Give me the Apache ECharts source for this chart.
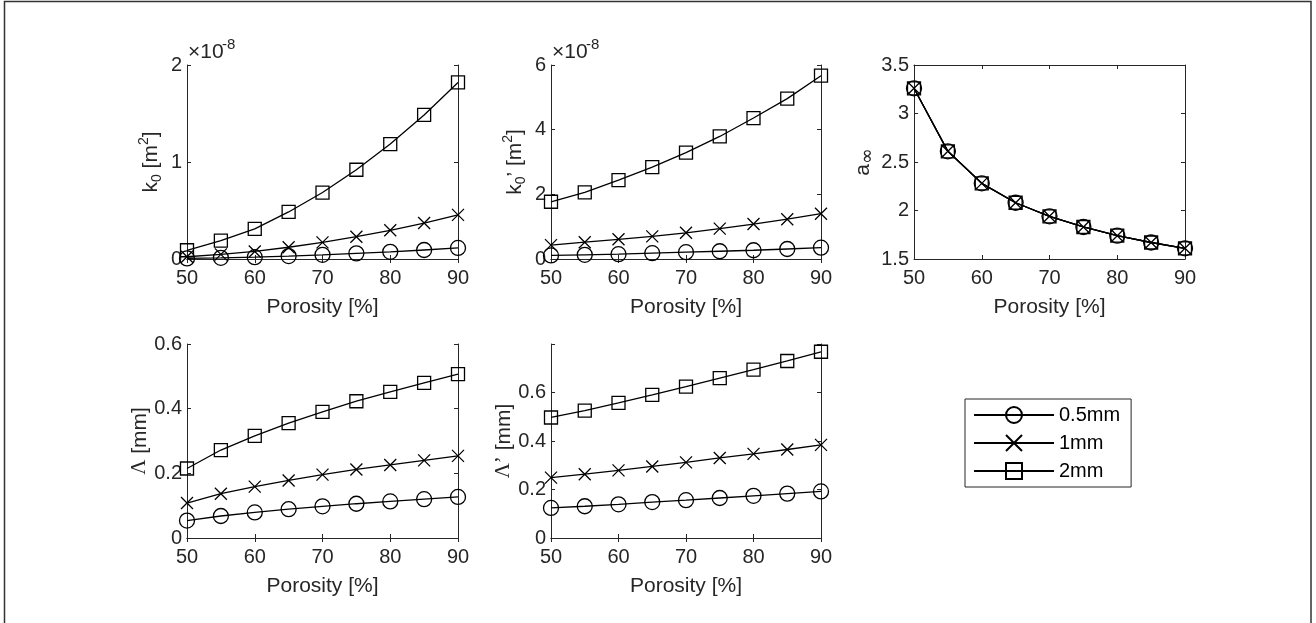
<!DOCTYPE html>
<html>
<head>
<meta charset="utf-8">
<script src="https://cdn.jsdelivr.net/npm/echarts@6/dist/echarts.min.js"></script>
<style>
html,body{margin:0;padding:0;background:#fff;}
#c{width:1316px;height:623px;}
</style>
</head>
<body>
<div id="c"></div>
<script>
// ---------- data ----------
const porosity = [50, 55, 60, 65, 70, 75, 80, 85, 90];
const seriesNames = ['0.5mm', '1mm', '2mm'];

// k0 in units of 1e-8 m^2
const k0_05 = [0.006, 0.012, 0.019, 0.030, 0.043, 0.058, 0.074, 0.093, 0.114];
const k0_1  = [0.023, 0.048, 0.078, 0.121, 0.171, 0.230, 0.296, 0.371, 0.455];
const k0_2  = [0.090, 0.190, 0.310, 0.485, 0.685, 0.920, 1.185, 1.485, 1.820];

// k0' in units of 1e-8 m^2
const k0p_05 = [0.11, 0.13, 0.15, 0.18, 0.21, 0.24, 0.27, 0.31, 0.35];
const k0p_1  = [0.43, 0.52, 0.61, 0.70, 0.81, 0.94, 1.08, 1.23, 1.40];
const k0p_2  = [1.77, 2.06, 2.44, 2.84, 3.29, 3.79, 4.36, 4.96, 5.67];

// tortuosity a_inf
const ainf_05 = [3.26, 2.61, 2.28, 2.08, 1.94, 1.83, 1.74, 1.67, 1.61];
const ainf_1  = [3.26, 2.61, 2.28, 2.08, 1.94, 1.83, 1.74, 1.67, 1.61];
const ainf_2  = [3.26, 2.61, 2.28, 2.08, 1.94, 1.83, 1.74, 1.67, 1.61];

// viscous length Lambda [mm]
const lam_05 = [0.054, 0.068, 0.079, 0.089, 0.098, 0.106, 0.113, 0.120, 0.127];
const lam_1  = [0.108, 0.137, 0.159, 0.178, 0.196, 0.212, 0.226, 0.240, 0.254];
const lam_2  = [0.215, 0.272, 0.316, 0.355, 0.390, 0.423, 0.452, 0.480, 0.507];

// thermal length Lambda' [mm]
const lamp_05 = [0.124, 0.131, 0.139, 0.148, 0.156, 0.165, 0.174, 0.183, 0.192];
const lamp_1  = [0.249, 0.263, 0.279, 0.295, 0.312, 0.330, 0.347, 0.365, 0.384];
const lamp_2  = [0.497, 0.525, 0.557, 0.590, 0.624, 0.659, 0.694, 0.730, 0.768];

// y-axis ranges / ticks (labels shown only up to yLabelMax)
const yMin = [0, 0, 1.5, 0, 0];
const yMax = [2, 6, 3.5, 0.6, 0.8];
const yLabelMax = [2, 6, 3.5, 0.6, 0.6];
const yInterval = [1, 2, 0.5, 0.2, 0.2];
const xMin = 50, xMax = 90, xInterval = 10;
const xLabel = 'Porosity [%]';

// ---------- styling / layout ----------
const FONT = 'Liberation Sans, Arial, Helvetica, sans-serif';
const AX = '#262626';
const grids = [
  {left: 187, top: 65, width: 271, height: 194},
  {left: 551, top: 65, width: 270, height: 194},
  {left: 914, top: 65, width: 271, height: 194},
  {left: 187, top: 344, width: 271, height: 194},
  {left: 551, top: 344, width: 270, height: 194}
];
const nameRich = {
  t: {fontSize: 21, color: AX, fontFamily: FONT, lineHeight: 24},
  s: {fontSize: 21, color: AX, fontFamily: 'Liberation Serif, DejaVu Serif, serif', lineHeight: 24},
  sup: {fontSize: 14, color: AX, fontFamily: FONT, lineHeight: 14, padding: [0, 0, 14, 0]},
  sub: {fontSize: 14, color: AX, fontFamily: FONT, lineHeight: 14, padding: [12, 0, 0, 0]},
  inf: {fontSize: 19, color: AX, fontFamily: 'DejaVu Sans, sans-serif', lineHeight: 19, padding: [10, 0, 0, 0]}
};
const yNames = [
  '{t|k}{sub|0}{t| [m}{sup|2}{t|]}',
  '{t|k}{sub|0}{t|’ [m}{sup|2}{t|]}',
  '{t|a}{inf|∞}',
  '{s|Λ}{t| [mm]}',
  '{s|Λ’}{t| [mm]}'
];
const yNameGap = [24, 24, 34, 32, 33];

const CROSS = 'path://M0,0L10,10M10,0L0,10';
const symbols = ['circle', CROSS, 'rect'];
const symSizes = [15, 12, 13];

function fmt(v) { return String(parseFloat(Number(v).toFixed(4))); }

const xAxes = [], yAxes = [];
grids.forEach((g, i) => {
  xAxes.push({
    type: 'value', gridIndex: i, min: xMin, max: xMax, interval: xInterval, position: 'bottom',
    axisLine: {lineStyle: {color: AX, width: 1}},
    axisTick: {inside: true, length: 4, lineStyle: {color: AX}},
    axisLabel: {fontSize: 20, color: AX, fontFamily: FONT, margin: 9},
    splitLine: {show: false},
    name: xLabel, nameLocation: 'middle', nameGap: 36,
    nameTextStyle: {fontSize: 21, color: AX, fontFamily: FONT, lineHeight: 24}
  });
  xAxes.push({
    type: 'value', gridIndex: i, min: xMin, max: xMax, interval: xInterval, position: 'top',
    axisLine: {lineStyle: {color: AX, width: 1}},
    axisTick: {inside: true, length: 4, lineStyle: {color: AX}},
    axisLabel: {show: false}, splitLine: {show: false}
  });
  yAxes.push({
    type: 'value', gridIndex: i, min: yMin[i], max: yMax[i], interval: yInterval[i], position: 'left',
    axisLine: {lineStyle: {color: AX, width: 1}},
    axisTick: {inside: true, length: 4, lineStyle: {color: AX}},
    axisLabel: {fontSize: 20, color: AX, fontFamily: FONT, margin: 5,
      formatter: function (v) {
        if (v > yLabelMax[i] + 1e-9) return '';
        const k = (v - yMin[i]) / yInterval[i];
        if (Math.abs(k - Math.round(k)) > 1e-6) return '';
        return fmt(v);
      }},
    splitLine: {show: false},
    name: yNames[i], nameLocation: 'middle', nameGap: yNameGap[i],
    nameTextStyle: {rich: nameRich, fontSize: 21, color: AX, fontFamily: FONT}
  });
  yAxes.push({
    type: 'value', gridIndex: i, min: yMin[i], max: yMax[i], interval: yInterval[i], position: 'right',
    axisLine: {lineStyle: {color: AX, width: 1}},
    axisTick: {inside: true, length: 4, lineStyle: {color: AX}},
    axisLabel: {show: false}, splitLine: {show: false}
  });
});

const plotData = [
  [k0_05, k0_1, k0_2],
  [k0p_05, k0p_1, k0p_2],
  [ainf_05, ainf_1, ainf_2],
  [lam_05, lam_1, lam_2],
  [lamp_05, lamp_1, lamp_2]
];

const series = [];
plotData.forEach((sets, gi) => {
  sets.forEach((vals, si) => {
    series.push({
      type: 'line', name: seriesNames[si],
      xAxisIndex: gi * 2, yAxisIndex: gi * 2,
      data: porosity.map((p, k) => [p, vals[k]]),
      symbol: symbols[si], symbolSize: symSizes[si],
      showAllSymbol: true,
      lineStyle: {color: '#000', width: 1.3},
      itemStyle: {color: 'rgba(0,0,0,0)', borderColor: '#000', borderWidth: 1.3},
      emphasis: {disabled: true},
      silent: true,
      z: 2
    });
  });
});

function expText(x) {
  return [
    {type: 'text', x: x + 1, y: 63, silent: true,
      style: {text: '×10', fontSize: 21, fontFamily: FONT, fill: AX, verticalAlign: 'bottom', align: 'left'}},
    {type: 'text', x: x + 35, y: 37, silent: true,
      style: {text: '-8', fontSize: 15, fontFamily: FONT, fill: AX, verticalAlign: 'top', align: 'left'}}
  ];
}

const option = {
  backgroundColor: '#fff',
  animation: false,
  textStyle: {fontFamily: FONT},
  grid: grids.map(g => Object.assign({containLabel: false}, g)),
  xAxis: xAxes,
  yAxis: yAxes,
  series: series,
  legend: {
    data: seriesNames,
    orient: 'vertical',
    left: 965, top: 399,
    itemWidth: 80, itemHeight: 20, itemGap: 8,
    padding: [6, 11, 6, 8],
    borderColor: AX, borderWidth: 1,
    backgroundColor: '#fff',
    textStyle: {fontSize: 20, color: '#000', fontFamily: FONT, lineHeight: 20},
    selectedMode: false
  },
  graphic: [
    {type: 'rect', shape: {x: 4.5, y: 1.5, width: 1306.5, height: 640},
      style: {fill: 'none', stroke: '#333', lineWidth: 1.5}, silent: true}
  ].concat(expText(187), expText(551))
};

const chart = echarts.init(document.getElementById('c'), null, {renderer: 'canvas'});
chart.setOption(option);
</script>
</body>
</html>
